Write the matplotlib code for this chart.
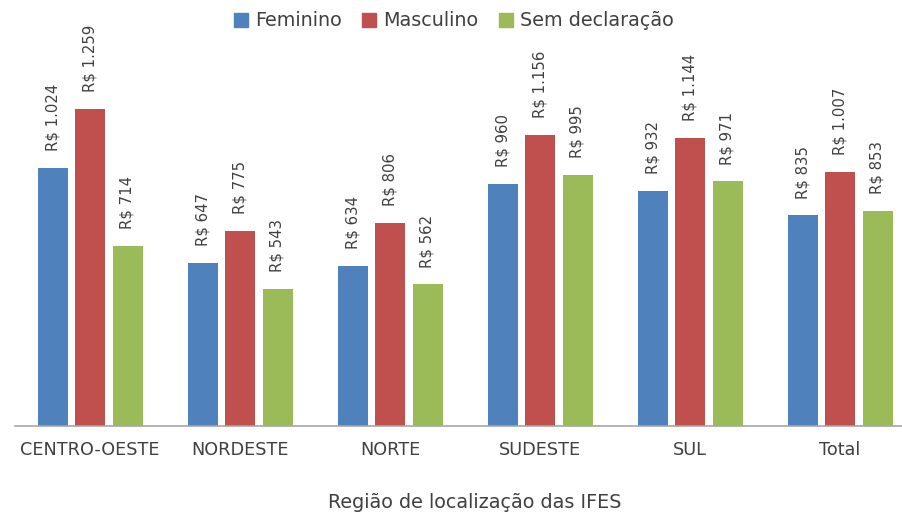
import matplotlib
matplotlib.use("Agg")
import matplotlib.pyplot as plt
import numpy as np

categories = ["CENTRO-OESTE", "NORDESTE", "NORTE", "SUDESTE", "SUL", "Total"]
feminino = [1024, 647, 634, 960, 932, 835]
masculino = [1259, 775, 806, 1156, 1144, 1007]
sem_decl = [714, 543, 562, 995, 971, 853]
series_names = ["Feminino", "Masculino", "Sem declaração"]
colors = ["#4F81BD", "#C0504D", "#9BBB59"]

plt.rcParams['font.family'] = ['DejaVu Sans']
W, H = 903, 512
fig = plt.figure(figsize=(W / 100, H / 100), dpi=100)
ax = fig.add_axes([15 / W, (H - 426) / H, 900 / W, (426 - 73) / H])

x = np.arange(len(categories))
offsets = [-0.25, 0.0, 0.25]
txt = "#404040"
for vals, off, col, name in zip([feminino, masculino, sem_decl], offsets, colors, series_names):
    bars = ax.bar(x + off, vals, width=0.2, color=col, label=name)
    for xi, v in zip(x + off, vals):
        s = "R$ " + f"{v:,}".replace(",", ".")
        ax.annotate(s, (xi, v), xytext=(0, 12), textcoords="offset points",
                    rotation=90, ha="center", va="bottom", fontsize=10.7, color=txt)

ax.set_xlim(-0.5, len(categories) - 0.5)
ax.set_ylim(0, 1400)
ax.set_yticks([])
for s in ["top", "right", "left"]:
    ax.spines[s].set_visible(False)
ax.spines["bottom"].set_color("#A6A6A6")
ax.spines["bottom"].set_linewidth(1.2)
ax.set_xticks(x)
ax.set_xticklabels(categories, fontsize=12.7, color=txt)
ax.tick_params(axis="x", length=0, pad=11)

fig.text(475 / W, 1 - 502 / H, "Região de localização das IFES", ha="center", va="center",
         fontsize=13.8, color=txt)

handles = [plt.Rectangle((0, 0), 1, 1, color=c) for c in colors]
fig.legend(handles, series_names, loc="center", bbox_to_anchor=(454 / W, 1 - 21 / H),
           ncol=3, frameon=False, fontsize=13.8, handlelength=0.73, handleheight=0.73,
           handletextpad=0.37, columnspacing=1.05, labelcolor=txt)

fig.savefig("out.png", dpi=100)
